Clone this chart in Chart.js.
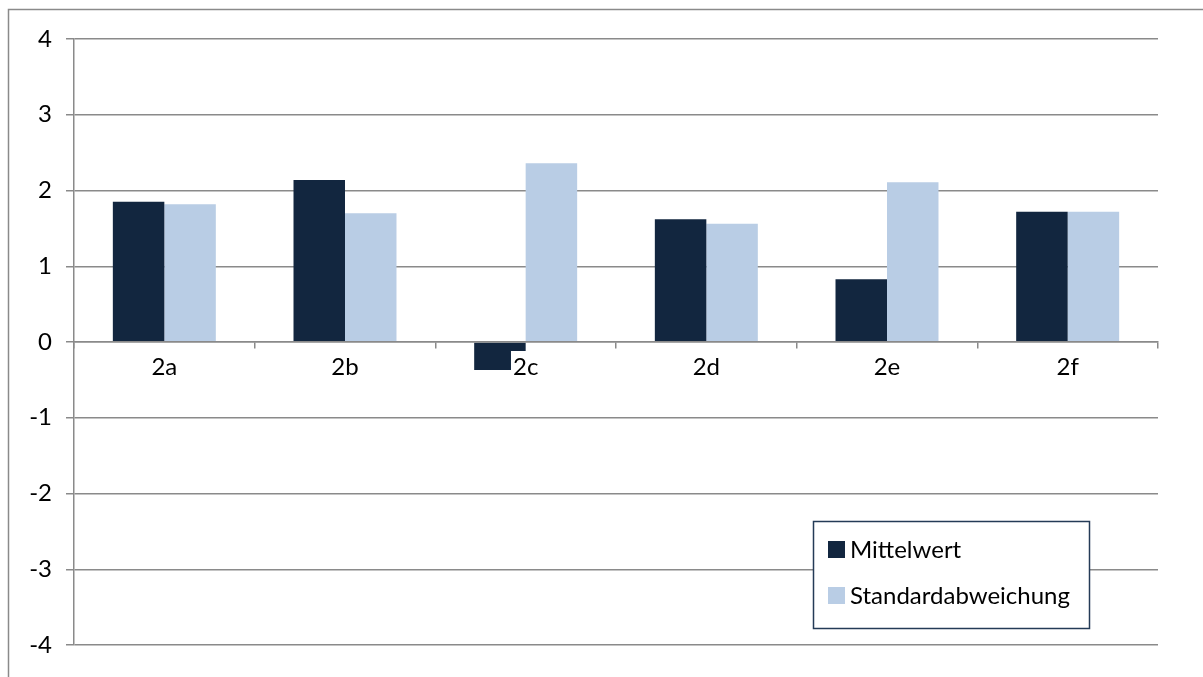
<!DOCTYPE html>
<html>
<head>
<meta charset="utf-8">
<script src="https://cdn.jsdelivr.net/npm/chart.js@4/dist/chart.umd.min.js"></script>
<style>
  html, body { margin: 0; padding: 0; background: #fff; }
  #wrap { width: 1203px; height: 677px; position: relative; }
</style>
</head>
<body>
<div id="wrap"><canvas id="chart"></canvas></div>
<script>
// Daten
const categories = ['2a', '2b', '2c', '2d', '2e', '2f'];
const mittelwert = [1.85, 2.14, -0.37, 1.62, 0.83, 1.72];
const standardabweichung = [1.82, 1.70, 2.36, 1.56, 2.11, 1.72];
const yMin = -4;
const yMax = 4;

const dark = '#12263F';
const light = '#B9CDE5';
const gridColor = '#8a8a8a';
const fontFamily = "Lato, 'Liberation Sans', sans-serif";
const fontSize = 24;

// Rahmen um das ganze Diagramm
const frame = {
  id: 'frame',
  beforeDraw(chart) {
    const ctx = chart.ctx;
    ctx.save();
    ctx.strokeStyle = gridColor;
    ctx.lineWidth = 1.5;
    ctx.strokeRect(8.5, 9.5, 1300, 800);
    ctx.restore();
  }
};

// Legende im Diagrammbereich
const boxLegend = {
  id: 'boxLegend',
  afterDraw(chart) {
    const ctx = chart.ctx;
    const x = 813, y = 521, w = 276, h = 107;
    ctx.save();
    ctx.fillStyle = '#fff';
    ctx.fillRect(x, y, w, h);
    ctx.strokeStyle = '#243B57';
    ctx.lineWidth = 1.5;
    ctx.strokeRect(x + 0.5, y + 0.5, w, h);
    ctx.font = fontSize + 'px ' + fontFamily;
    ctx.textBaseline = 'middle';
    chart.data.datasets.forEach((ds, i) => {
      const cy = y + 28 + i * 46;
      ctx.fillStyle = ds.backgroundColor;
      ctx.fillRect(x + 15, cy - 8, 17, 17);
      ctx.fillStyle = '#000';
      ctx.fillText(ds.label, x + 37, cy + 1);
    });
    ctx.restore();
  }
};

new Chart(document.getElementById('chart'), {
  type: 'bar',
  data: {
    labels: categories,
    datasets: [
      { label: 'Mittelwert', data: mittelwert, backgroundColor: dark },
      { label: 'Standardabweichung', data: standardabweichung, backgroundColor: light }
    ]
  },
  options: {
    responsive: true,
    maintainAspectRatio: false,
    animation: false,
    layout: { padding: { left: 0, top: 39, right: 45, bottom: 32 } },
    datasets: { bar: { categoryPercentage: 0.57, barPercentage: 1.0 } },
    plugins: {
      legend: { display: false },
      tooltip: { enabled: false }
    },
    scales: {
      x: {
        position: { y: 0 },
        offset: true,
        grid: { offset: true, drawOnChartArea: false, drawTicks: true, tickLength: 6, color: gridColor, lineWidth: 1.5 },
        border: { display: true, color: gridColor, width: 1.5, z: 1 },
        ticks: {
          z: 1,
          color: '#000',
          font: { family: fontFamily, size: fontSize },
          padding: 5,
          maxRotation: 0,
          showLabelBackdrop: true,
          backdropColor: '#fff',
          backdropPadding: { left: 2, right: 2, top: 2, bottom: 2 }
        }
      },
      y: {
        min: yMin,
        max: yMax,
        afterFit(scale) { scale.width = 74; },
        grid: { color: gridColor, lineWidth: 1.5, tickLength: 8 },
        border: { display: true, color: gridColor, width: 1.5 },
        ticks: {
          stepSize: 1,
          color: '#000',
          font: { family: fontFamily, size: fontSize },
          padding: 14
        }
      }
    }
  },
  plugins: [frame, boxLegend]
});
</script>
</body>
</html>
